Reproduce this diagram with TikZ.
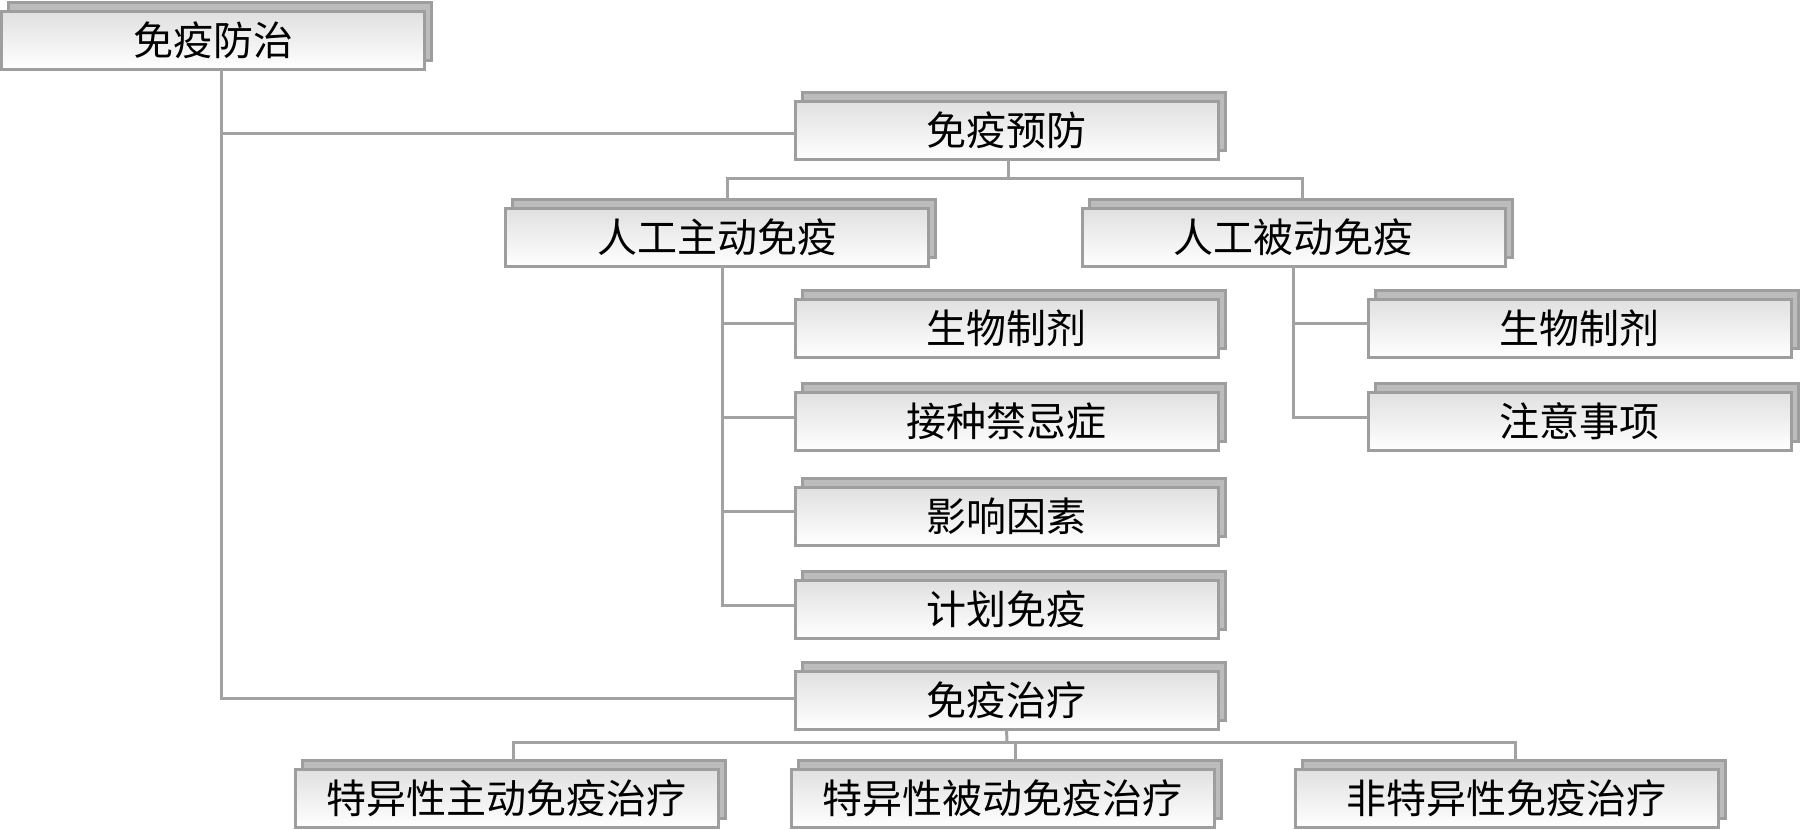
\documentclass[tikz,border=0pt]{standalone}
\usepackage{fontspec}
\newfontfamily\cjk{Noto Sans CJK SC}
\usetikzlibrary{shadows}
\definecolor{edgegray}{RGB}{158,158,158}
\definecolor{linegray}{RGB}{162,162,162}
\definecolor{backgray}{RGB}{188,188,188}
\definecolor{topgray}{RGB}{224,224,224}
\tikzset{
  bx/.style={draw=edgegray, line width=3pt, top color=topgray, bottom color=white,
    minimum width=423pt, minimum height=58pt, inner sep=0pt, outer sep=0pt,
    font=\cjk\fontsize{40}{46}\selectfont, text=black,
    general shadow={shadow xshift=7pt, shadow yshift=9pt, fill=backgray,
      draw=edgegray, line width=3pt}},
  ln/.style={draw=linegray, line width=3pt, line join=miter}
}
\begin{document}
\begin{tikzpicture}[x=1pt,y=-1pt]
\useasboundingbox (0,0) rectangle (1800,830);
\fill[white] (0,0) rectangle (1800,830);

% tree of boxes
\node[bx] (root) at (213,40.5) {免疫防治};
\node[bx] (prev) at (1006.5,130) {免疫预防};
\node[bx] (act)  at (717,237) {人工主动免疫};
\node[bx] (pas)  at (1293.5,237) {人工被动免疫};
\node[bx] (a1)   at (1006.5,328) {生物制剂};
\node[bx] (a2)   at (1006.5,421) {接种禁忌症};
\node[bx] (a3)   at (1006.5,516) {影响因素};
\node[bx] (a4)   at (1006.5,609) {计划免疫};
\node[bx] (p1)   at (1579.5,328) {生物制剂};
\node[bx] (p2)   at (1579.5,421) {注意事项};
\node[bx] (thr)  at (1006.5,700) {免疫治疗};
\node[bx] (t1)   at (506.5,798) {特异性主动免疫治疗};
\node[bx] (t2)   at (1002.5,798) {特异性被动免疫治疗};
\node[bx] (t3)   at (1506.5,798) {非特异性免疫治疗};

\coordinate (pbar) at (1008,178);
\coordinate (tbar) at (1007,742);

% connectors
\draw[ln] ([xshift=8pt]root.south) |- ([yshift=-3pt]prev.west);
\draw[ln] ([xshift=8pt]root.south) |- ([yshift=2pt]thr.west);

\draw[ln] ([xshift=1.5pt]prev.south) -- (pbar);
\draw[ln] ([xshift=10pt,yshift=9pt]act.north) |- (pbar) -| ([xshift=8.5pt,yshift=9pt]pas.north);

\draw[ln] ([xshift=5pt]act.south) |- ([yshift=4pt]a4.west);
\draw[ln] ([xshift=5pt]act.south) |- ([yshift=5pt]a1.west);
\draw[ln] ([xshift=5pt]act.south) |- ([yshift=4pt]a2.west);
\draw[ln] ([xshift=5pt]act.south) |- ([yshift=5pt]a3.west);

\draw[ln] (pas.south) |- ([yshift=4pt]p2.west);
\draw[ln] (pas.south) |- ([yshift=5pt]p1.west);

\draw[ln] (thr.south) -- (tbar);
\draw[ln] ([xshift=7pt,yshift=9pt]t1.north) |- (tbar) -| ([xshift=8.5pt,yshift=9pt]t3.north);
\draw[ln] ([xshift=12.5pt,yshift=9pt]t2.north) |- (tbar);
\end{tikzpicture}
\end{document}
